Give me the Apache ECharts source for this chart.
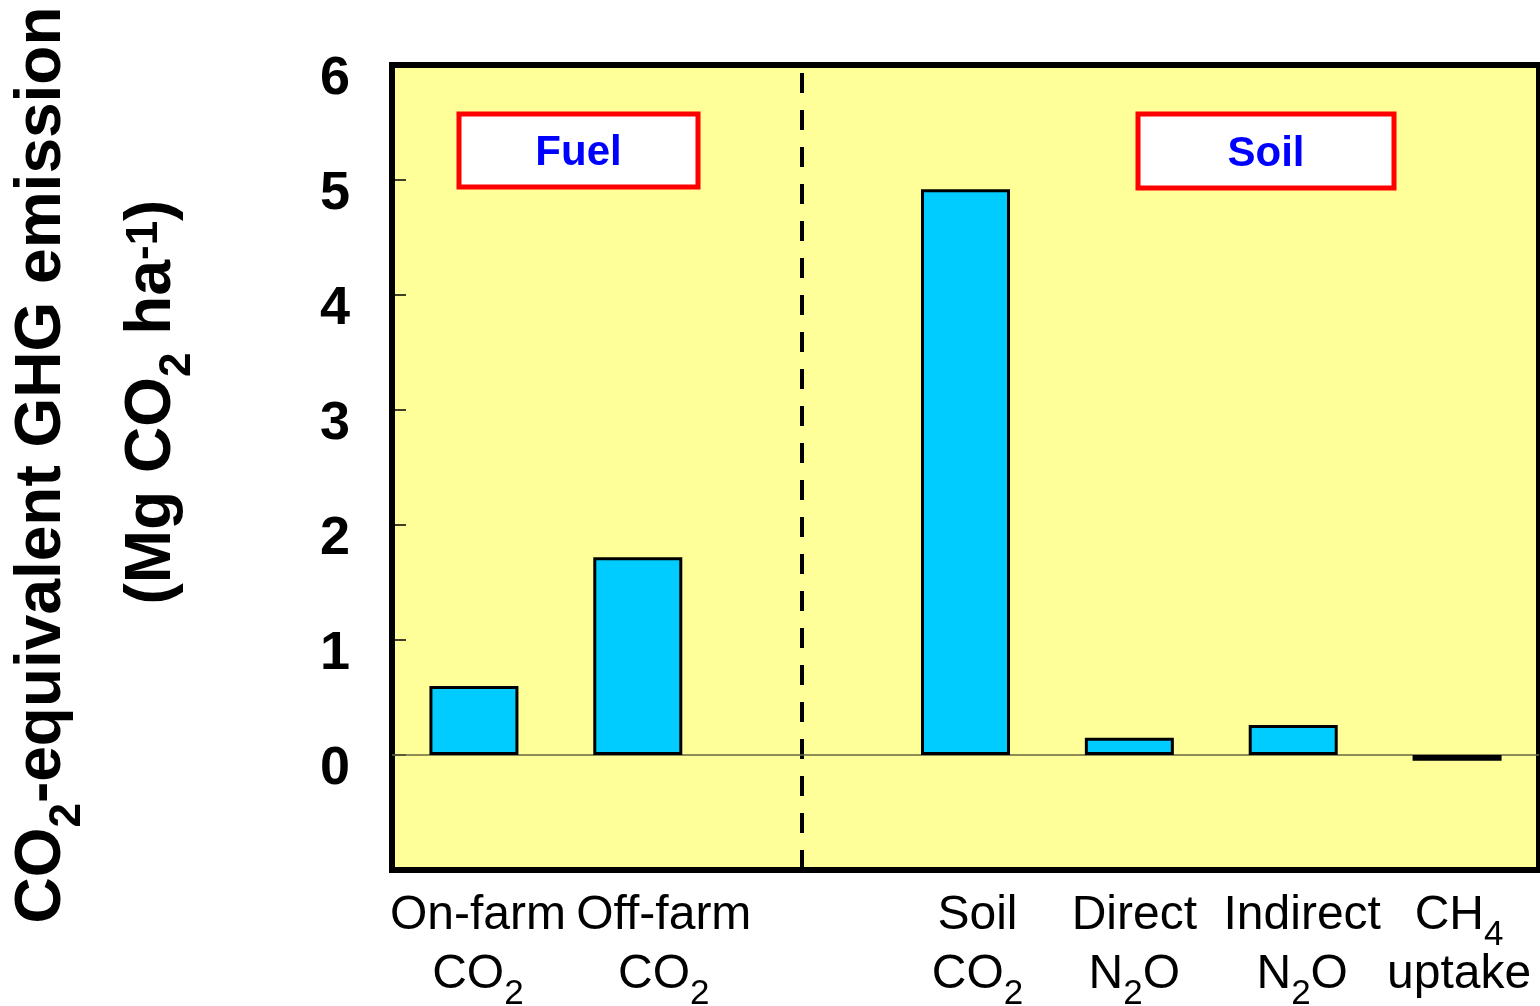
<!DOCTYPE html>
<html><head><meta charset="utf-8">
<script src="https://cdn.jsdelivr.net/npm/echarts@6/dist/echarts.min.js"></script>
<style>html,body{margin:0;padding:0;background:#fff}#c{width:1540px;height:1006px}</style>
</head><body><div id="c"></div>
<script>
const categories = ['On-farm CO2', 'Off-farm CO2', '', 'Soil CO2', 'Direct N2O', 'Indirect N2O', 'CH4 uptake'];
const categoryLines = [
  ['{n|On-farm}', '{n|CO}{s|2}'],
  ['{n|Off-farm}', '{n|CO}{s|2}'],
  [],
  ['{n|Soil}', '{n|CO}{s|2}'],
  ['{n|Direct}', '{n|N}{s|2}{n|O}'],
  ['{n|Indirect}', '{n|N}{s|2}{n|O}'],
  ['{n|CH}{s|4}', '{n|uptake}']
];
const emissions = [0.60, 1.72, null, 4.92, 0.15, 0.26, -0.05];
const yTickLabels = [0, 1, 2, 3, 4, 5, 6];
const groupLabels = ['Fuel', 'Soil'];
const yTitle1 = '{b|CO}{bs|2}{b|-equivalent GHG emission}';
const yTitle2 = '{b|(Mg CO}{bs|2}{b| ha}{bp|-1}{b|)}';

// layout only: horizontal label shift (px) per category
const labelShift = [4, 26, 0, 12, 5, 9, 2];

const FONT = '"Liberation Sans", Arial, sans-serif';
const chart = echarts.init(document.getElementById('c'), null, {renderer: 'canvas'});

const titleRich = {
  b: {fontSize: 64, fontWeight: 'bold', fontFamily: FONT, color: '#000', lineHeight: 70, verticalAlign: 'top'},
  bs: {fontSize: 44, fontWeight: 'bold', fontFamily: FONT, color: '#000', lineHeight: 20, padding: [36, 0, 0, 0], verticalAlign: 'top'},
  bp: {fontSize: 44, fontWeight: 'bold', fontFamily: FONT, color: '#000', lineHeight: 20, padding: [3, 0, 0, 0], verticalAlign: 'top'}
};

const labelRich = {
  n: {fontSize: 48, fontFamily: FONT, color: '#000', lineHeight: 59, verticalAlign: 'top'},
  s: {fontSize: 35, fontFamily: FONT, color: '#000', lineHeight: 20, padding: [26, 0, 0, 0], verticalAlign: 'top'}
};
labelShift.forEach(function (d, i) {
  labelRich['o' + i] = {width: Math.max(1, 2 * d), fontSize: 10, lineHeight: 10, verticalAlign: 'top'};
});

function boxGroup(label, x, y, w, h) {
  return {
    type: 'group', x: x, y: y, z: 100,
    children: [
      {type: 'rect', shape: {x: 0, y: 0, width: w, height: h},
       style: {fill: '#fff', stroke: '#ff0000', lineWidth: 5}},
      {type: 'text', x: w / 2, y: h / 2 + 3,
       style: {text: label, fontSize: 42, fontWeight: 'bold', fontFamily: FONT, fill: '#0000ff',
               align: 'center', verticalAlign: 'middle'}}
    ]
  };
}

chart.setOption({
  animation: false,
  backgroundColor: '#fff',
  grid: {left: 392, right: 1, top: 65, bottom: 136, show: true, outerBoundsMode: 'none', containLabel: false,
         backgroundColor: '#ffff99', borderColor: '#000', borderWidth: 6},
  xAxis: {
    type: 'category', data: categories,
    axisLine: {show: false}, axisTick: {show: false},
    axisLabel: {
      interval: 0, margin: 22,
      formatter: function (v, i) {
        const lines = categoryLines[i];
        if (!lines || !lines.length) return '';
        return lines.map(function (l) { return '{o' + i + '| }' + l; }).join('\n');
      },
      rich: labelRich
    }
  },
  yAxis: {
    type: 'value', min: -1, max: 6, interval: 1,
    splitLine: {show: false},
    axisLine: {show: false},
    axisTick: {show: true, inside: true, length: 14, lineStyle: {color: '#000', width: 1.5}},
    axisLabel: {
      margin: 42, fontSize: 54, fontWeight: 'bold', fontFamily: FONT, color: '#000',
      verticalAlign: 'top', lineHeight: 28,
      formatter: function (v) { return yTickLabels.indexOf(v) >= 0 ? String(v) : ''; }
    }
  },
  series: [{
    type: 'bar', data: emissions, barWidth: 89,
    itemStyle: {color: '#00ccff', borderColor: '#000', borderWidth: 3},
    markLine: {
      silent: true, symbol: 'none', label: {show: false}, z: 1,
      data: [
        {xAxis: 2, lineStyle: {type: [20, 17], width: 4, color: '#000'}},
        {yAxis: 0, lineStyle: {type: 'solid', width: 1.5, color: '#66663f'}}
      ]
    }
  }],
  graphic: [
    boxGroup(groupLabels[0], 459, 114, 239, 73),
    boxGroup(groupLabels[1], 1138, 114, 256, 74),
    {type: 'text', x: 45, y: 465, rotation: Math.PI / 2, z: 100,
     style: {text: yTitle1, rich: titleRich, align: 'center', verticalAlign: 'middle'}},
    {type: 'text', x: 155, y: 402, rotation: Math.PI / 2, z: 100,
     style: {text: yTitle2, rich: titleRich, align: 'center', verticalAlign: 'middle'}}
  ]
});
</script>
</body></html>
